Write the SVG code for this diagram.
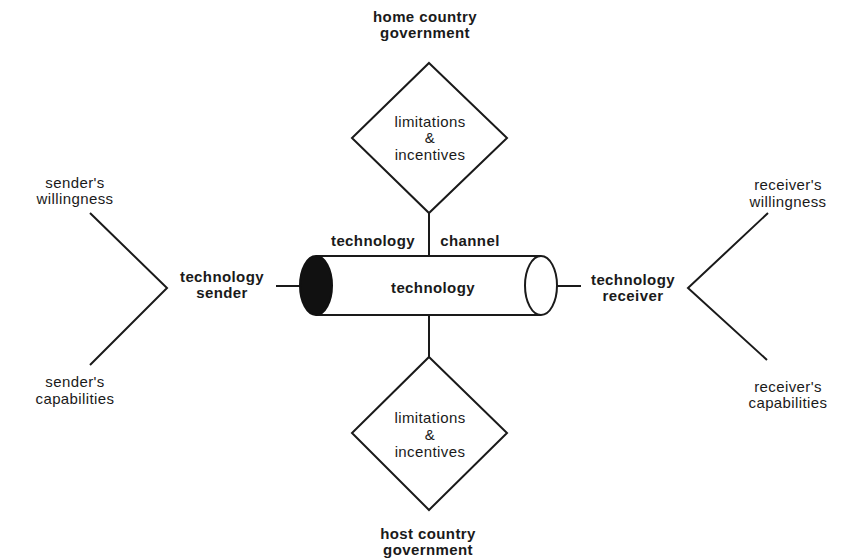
<svg xmlns="http://www.w3.org/2000/svg" width="842" height="559" viewBox="0 0 842 559">
<style>
.ln{stroke:#1a1a1a;stroke-width:2;fill:none}
.sh{stroke:#1a1a1a;stroke-width:2;fill:#fff}
text{font-family:"Liberation Sans",Arial,sans-serif;font-size:15px;fill:#1a1a1a;text-anchor:middle;letter-spacing:0.4px}
.b{font-weight:bold}
</style>
<rect width="842" height="559" fill="#fff"/>
<g id="connectors">
<line class="ln" x1="429" y1="213" x2="429" y2="256"/>
<line class="ln" x1="429" y1="315" x2="429" y2="357"/>
<line class="ln" x1="276" y1="286" x2="300" y2="286"/>
<line class="ln" x1="557" y1="286" x2="581" y2="286"/>
<polyline class="ln" points="90,213 167,288 90,365"/>
<polyline class="ln" points="768,213 688,288 767,360"/>
</g>
<g id="home-gov"><text class="b" x="425" y="22">home country</text><text class="b" x="425" y="38">government</text></g>
<g id="top-diamond">
<polygon class="sh" points="429,63 507,138 429,213 352,138"/>
<text x="430" y="127">limitations</text><text x="430" y="143">&amp;</text><text x="430" y="160">incentives</text>
</g>
<g id="channel-label"><text class="b" x="373" y="246">technology</text><text class="b" x="470" y="246">channel</text></g>
<g id="cylinder">
<path d="M316,256 H541 V315 H316 Z" fill="#fff"/>
<line class="ln" x1="316" y1="256" x2="541" y2="256"/>
<line class="ln" x1="316" y1="315" x2="541" y2="315"/>
<ellipse cx="541" cy="285.5" rx="16" ry="29.5" class="ln"/>
<ellipse cx="316" cy="285.5" rx="16" ry="29.5" fill="#111" stroke="#111" stroke-width="2"/>
<text class="b" x="433" y="293">technology</text>
</g>
<g id="sender"><text class="b" x="222" y="282">technology</text><text class="b" x="222" y="298">sender</text></g>
<g id="receiver"><text class="b" x="633" y="285">technology</text><text class="b" x="633" y="301">receiver</text></g>
<g id="sender-will"><text x="75" y="188">sender's</text><text x="75" y="204">willingness</text></g>
<g id="sender-cap"><text x="75" y="387">sender's</text><text x="75" y="404">capabilities</text></g>
<g id="receiver-will"><text x="788" y="190">receiver's</text><text x="788" y="207">willingness</text></g>
<g id="receiver-cap"><text x="788" y="392">receiver's</text><text x="788" y="408">capabilities</text></g>
<g id="bottom-diamond">
<polygon class="sh" points="429,357 507,433 429,510 352,433"/>
<text x="430" y="423">limitations</text><text x="430" y="440">&amp;</text><text x="430" y="457">incentives</text>
</g>
<g id="host-gov"><text class="b" x="428" y="539">host country</text><text class="b" x="428" y="555">government</text></g>
</svg>
